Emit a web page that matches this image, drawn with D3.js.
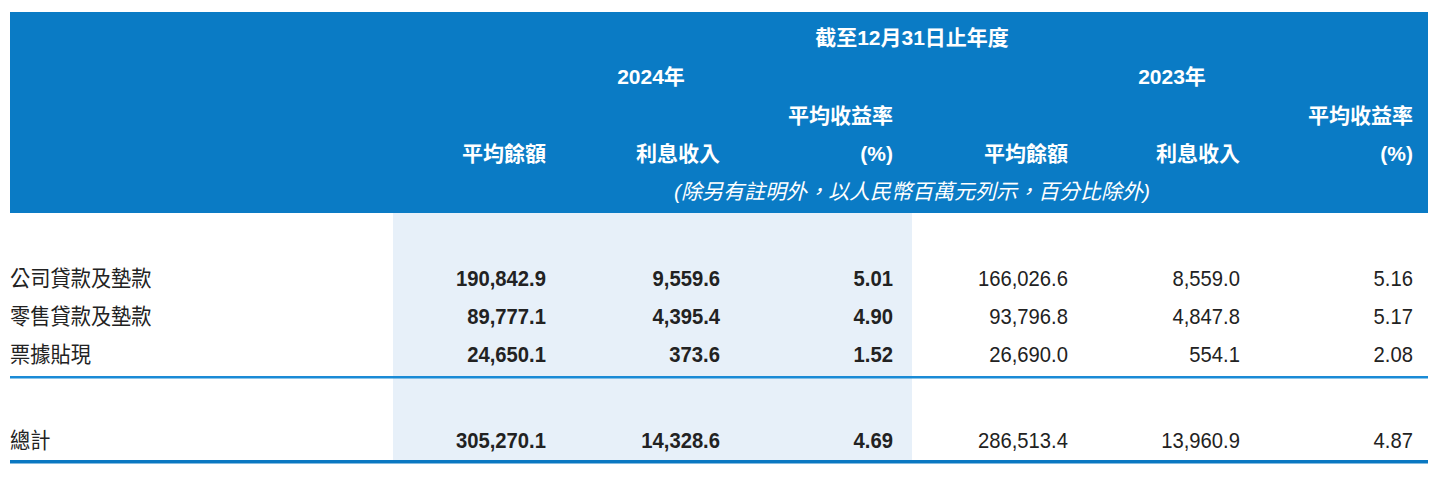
<!DOCTYPE html>
<html><head><meta charset="utf-8">
<script src="https://cdn.jsdelivr.net/npm/d3@7"></script>
<style>body{margin:0;background:#fff}</style></head>
<body><svg id="t" width="1438" height="477"></svg>
<script>
const categories = ["公司貸款及墊款", "零售貸款及墊款", "票據貼現"];
const totalLabel = "總計";
const columns = ["平均餘額", "利息收入", "(%)", "平均餘額", "利息收入", "(%)"];
const values = [
  ["190,842.9", "9,559.6", "5.01", "166,026.6", "8,559.0", "5.16"],
  ["89,777.1", "4,395.4", "4.90", "93,796.8", "4,847.8", "5.17"],
  ["24,650.1", "373.6", "1.52", "26,690.0", "554.1", "2.08"]
];
const totals = ["305,270.1", "14,328.6", "4.69", "286,513.4", "13,960.9", "4.87"];

const svg = d3.select("#t");
const font = "'Liberation Sans', 'Noto Sans CJK TC', sans-serif";
const colRight = [546, 720, 893, 1068, 1240, 1413];
const blue = "#0a7bc5";

svg.append("rect").attr("x", 10).attr("y", 12).attr("width", 1418).attr("height", 201).attr("fill", blue);
svg.append("rect").attr("x", 393).attr("y", 213).attr("width", 519).attr("height", 249).attr("fill", "#e7f0f9");

const hdr = (x, y, t, anchor, extra) => {
  const el = svg.append("text").attr("x", x).attr("y", y).attr("fill", "#fff")
    .attr("text-anchor", anchor).attr("font-family", font).attr("font-size", 21)
    .attr("font-weight", "bold").attr("dominant-baseline", "central").text(t);
  if (extra) extra(el);
};
hdr(912, 37, "截至12月31日止年度", "middle");
hdr(651, 76, "2024年", "middle");
hdr(1172, 76, "2023年", "middle");
hdr(893, 115, "平均收益率", "end");
hdr(1413, 115, "平均收益率", "end");
columns.forEach((c, i) => hdr(colRight[i], 153, c, "end"));
hdr(912, 191, "(除另有註明外，以人民幣百萬元列示，百分比除外)", "middle",
  el => el.attr("font-weight", "normal").attr("font-style", "italic"));

const rowY = d3.scalePoint().domain(categories).range([278, 354]);
const cell = (x, y, t, anchor, bold) => svg.append("text").attr("x", x).attr("y", y)
  .attr("text-anchor", anchor).attr("dominant-baseline", "central").attr("fill", "#222")
  .attr("font-family", font).attr("font-size", 22).attr("font-weight", bold ? "bold" : "normal")
  .attr("transform", `translate(${x},0) scale(0.92,1) translate(${-x},0)`).text(t);

categories.forEach((c, r) => {
  const y = rowY(c);
  cell(10, y, c, "start", false);
  values[r].forEach((v, i) => cell(colRight[i], y, v, "end", i < 3));
});
cell(10, 440, totalLabel, "start", false);
totals.forEach((v, i) => cell(colRight[i], 440, v, "end", i < 3));

svg.append("rect").attr("x", 10).attr("y", 376).attr("width", 1418).attr("height", 2.5).attr("fill", "#1a8bd6");
svg.append("rect").attr("x", 10).attr("y", 460).attr("width", 1418).attr("height", 3.5).attr("fill", "#0a78c2");
</script></body></html>
